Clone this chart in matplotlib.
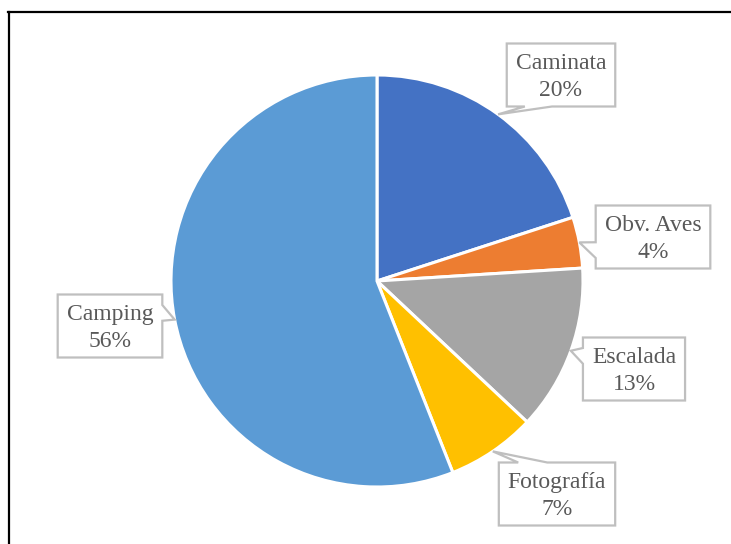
import matplotlib
matplotlib.use("Agg")
import matplotlib.pyplot as plt
import numpy as np
from matplotlib.patches import Polygon
from matplotlib.lines import Line2D

categories = ["Caminata", "Obv. Aves", "Escalada", "Fotografía", "Camping"]
values = [20, 4, 13, 7, 56]
colors = ["#4472C4", "#ED7D31", "#A5A5A5", "#FFC000", "#5B9BD5"]

W, H = 731, 544
fig = plt.figure(figsize=(W / 100, H / 100), dpi=100)
ax = fig.add_axes([0, 0, 1, 1])

cx, cy, R = 377, H - 281, 206
wedges, _ = ax.pie(values, colors=colors, startangle=90, counterclock=False,
                   radius=R, center=(cx, cy),
                   wedgeprops=dict(edgecolor="white", linewidth=2.2))
ax.set_xlim(0, W)
ax.set_ylim(0, H)
ax.set_aspect("auto")
ax.axis("off")

# label box centres (pixel layout, y from top)
label_pos = [(561, 75), (653, 237), (634, 369), (557, 494), (110, 326)]

total = sum(values)
fig.canvas.draw()
renderer = fig.canvas.get_renderer()


def callout(x0, y0, x1, y1, tx, ty):
    w, h = x1 - x0, y1 - y0
    mx, my = (x0 + x1) / 2, (y0 + y1) / 2
    dx, dy = (tx - mx) / w, (ty - my) / h
    if abs(dx) > abs(dy):
        if dy > 0:
            a, b = y1 - h * 5 / 12, y1 - h * 2 / 12
        else:
            a, b = y0 + h * 2 / 12, y0 + h * 5 / 12
        if dx > 0:
            pts = [(x0, y0), (x1, y0), (x1, a), (tx, ty), (x1, b), (x1, y1), (x0, y1)]
        else:
            pts = [(x0, y0), (x1, y0), (x1, y1), (x0, y1), (x0, b), (tx, ty), (x0, a)]
    else:
        if dx < 0:
            a, b = x0 + w * 2 / 12, x0 + w * 5 / 12
        else:
            a, b = x1 - w * 5 / 12, x1 - w * 2 / 12
        if dy < 0:
            pts = [(x0, y0), (a, y0), (tx, ty), (b, y0), (x1, y0), (x1, y1), (x0, y1)]
        else:
            pts = [(x0, y0), (x1, y0), (x1, y1), (b, y1), (tx, ty), (a, y1), (x0, y1)]
    return pts


for wdg, cat, val, (lx, ly) in zip(wedges, categories, values, label_pos):
    mid = np.deg2rad((wdg.theta1 + wdg.theta2) / 2)
    tx, ty = cx + R * np.cos(mid), cy + R * np.sin(mid)
    t = ax.text(lx, H - ly - 2, f"{cat}\n{round(val / total * 100)}%", ha="center",
                va="center", fontsize=17, family="Liberation Serif",
                color="#595959", linespacing=1.4, zorder=5)
    bb = t.get_window_extent(renderer)
    bw = bb.width + 18
    bh = 63
    x0, x1 = lx - bw / 2, lx + bw / 2
    y0, y1 = H - ly - bh / 2, H - ly + bh / 2
    poly = Polygon(callout(x0, y0, x1, y1, tx, ty), closed=True,
                   facecolor="white", edgecolor="#BFBFBF", linewidth=1.6, zorder=4)
    ax.add_patch(poly)

fig.add_artist(Line2D([8 / W, 1], [1 - 11.5 / H, 1 - 11.5 / H], color="black",
                      linewidth=1.6, transform=fig.transFigure))
fig.add_artist(Line2D([8.5 / W, 8.5 / W], [0, 1 - 11.5 / H], color="black",
                      linewidth=1.6, transform=fig.transFigure))

fig.savefig("out.png", dpi=100)
